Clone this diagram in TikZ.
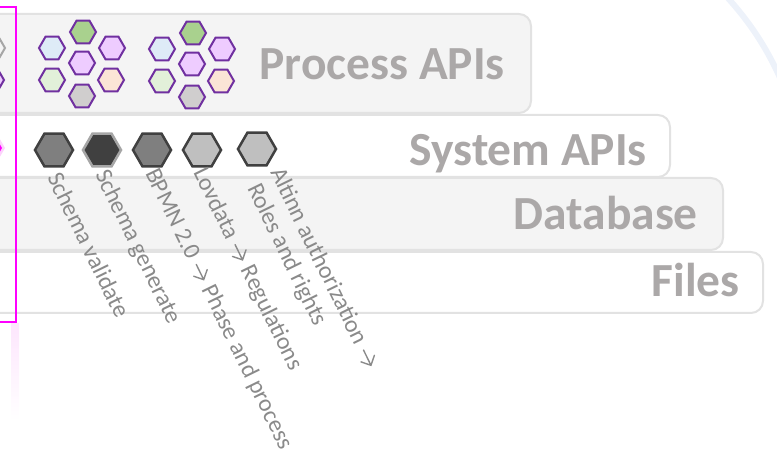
\documentclass[tikz,border=0pt]{standalone}
\usepackage{fontspec}
\setmainfont{Carlito}
\usetikzlibrary{shapes.geometric}
\definecolor{boxfill}{HTML}{F4F4F4}
\definecolor{boxline}{HTML}{E2E2E2}
\definecolor{titlegrey}{HTML}{ABA8A8}
\definecolor{labelgrey}{HTML}{8A8A8A}
\definecolor{hexpurple}{HTML}{7030A0}
\definecolor{hgreen}{HTML}{A9D18E}
\definecolor{hblue}{HTML}{DEEBF7}
\definecolor{hlilac}{HTML}{EECCFF}
\definecolor{hlgreen}{HTML}{E2F0D9}
\definecolor{hpeach}{HTML}{FBE5D6}
\definecolor{hgrey}{HTML}{D0CECE}
\definecolor{darkedge}{HTML}{404040}
\definecolor{midgrey}{HTML}{7F7F7F}
\definecolor{lightgrey}{HTML}{BFBFBF}
\definecolor{edgegrey}{HTML}{A6A6A6}
\definecolor{arcblue}{HTML}{EDF2FA}
\definecolor{magentaline}{HTML}{FF00FF}
\definecolor{pinkglow}{HTML}{FCD2FC}
\definecolor{pinkfaint}{HTML}{FDE6FD}
\tikzset{
  layerbox/.style={draw=boxline, line width=2pt, rounded corners=12pt},
  layertitle/.style={anchor=base east, inner sep=0pt, text=titlegrey,
    font=\fontsize{47.5}{52}\selectfont\bfseries},
  smallhex/.style={regular polygon, regular polygon sides=6, minimum size=26pt,
    inner sep=0pt, draw=hexpurple, line width=2pt},
  bighex/.style={regular polygon, regular polygon sides=6, minimum size=38pt,
    inner sep=0pt, draw=darkedge, line width=2.5pt},
  rotlabel/.style={anchor=base west, inner sep=0pt, rotate=-64, text=labelgrey,
    font=\fontsize{24}{28}\selectfont},
}
\newcommand{\myarrow}{\hspace{1pt}\tikz[reset cm, baseline=0pt, x=1pt, y=1pt]{%
  \draw[labelgrey, line width=1.4pt, line cap=round, line join=miter]
    (0,6) -- (17,6) (9.5,13.5) -- (17,6) -- (9.5,-1.5);}\hspace{2pt}}
\begin{document}
\begin{tikzpicture}[x=1pt,y=-1pt]
\useasboundingbox (0,0) rectangle (777,454);
\clip (0,0) rectangle (777,454);
% background arc
\draw[arcblue, line width=6pt] (726,-4) .. controls (748,20) and (766,46) .. (781,80);
% layer boxes
\draw[layerbox, fill=white]   (-40,252) rectangle (763,313);
\draw[layerbox, fill=boxfill] (-40,178) rectangle (723,250);
\draw[layerbox, fill=white]   (-40,115) rectangle (670,177);
\draw[layerbox, fill=boxfill] (-40,14)  rectangle (531,113);
\node[layertitle] (tproc) at (505,80)  {Process APIs};
\node[layertitle] (tsys)  at (647,166) {System APIs};
\node[layertitle] (tdb)   at (698,230) {Database};
\node[layertitle] (tfile) at (740,297) {Files};
% cut-off elements on the left
\node[smallhex, draw=edgegrey, fill=boxfill] (lh1) at (-8,48) {};
\node[smallhex, fill=hlilac] (lh2) at (-9,80) {};
\node[regular polygon, regular polygon sides=6, minimum size=38pt, fill=pinkglow, inner sep=0pt] (lglow) at (-14,148) {};
\node[regular polygon, regular polygon sides=6, minimum size=30pt, fill=magentaline, inner sep=0pt] (lmag) at (-13,148) {};
% magenta frame and its faint glow
\shade[top color=pinkfaint, bottom color=white] (11,324) rectangle (19,420);
\draw[magentaline, line width=2pt] (-10,7) rectangle (16,322);
% process API hexagon clusters
\foreach \cx/\cy/\k in {0/0/a, 110/1/b}{
  \node[smallhex, fill=hgreen]  (p\k1) at (83+\cx,32+\cy) {};
  \node[smallhex, fill=hblue]   (p\k2) at (52+\cx,48+\cy) {};
  \node[smallhex, fill=hlilac]  (p\k3) at (112+\cx,48+\cy) {};
  \node[smallhex, fill=hlilac]  (p\k4) at (82+\cx,63+\cy) {};
  \node[smallhex, fill=hlgreen] (p\k5) at (52+\cx,80+\cy) {};
  \node[smallhex, fill=hpeach]  (p\k6) at (111+\cx,80+\cy) {};
  \node[smallhex, fill=hgrey]   (p\k7) at (82+\cx,96+\cy) {};
}
% system API hexagons
\node[bighex, fill=midgrey] (s1) at (54,150) {};
\node[bighex, fill=darkedge, draw=edgegrey] (s2) at (102,150) {};
\node[bighex, fill=midgrey] (s3) at (152,150) {};
\node[bighex, fill=lightgrey] (s4) at (202,150) {};
\node[bighex, fill=lightgrey] (s5) at (257,149) {};
% rotated labels
\node[rotlabel] (l1) at (47,177) {Schema validate};
\node[rotlabel] (l2) at (95,174) {Schema generate};
\node[rotlabel] (l3) at (145,173) {BPMN 2.0 \myarrow{} Phase and process};
\node[rotlabel] (l4) at (193,172) {Lovdata \myarrow{} Regulations};
\node[rotlabel] (l5) at (270,172) {Altinn authorization \myarrow};
\node[rotlabel] (l6) at (247,188) {Roles and rights};
\end{tikzpicture}
\end{document}
